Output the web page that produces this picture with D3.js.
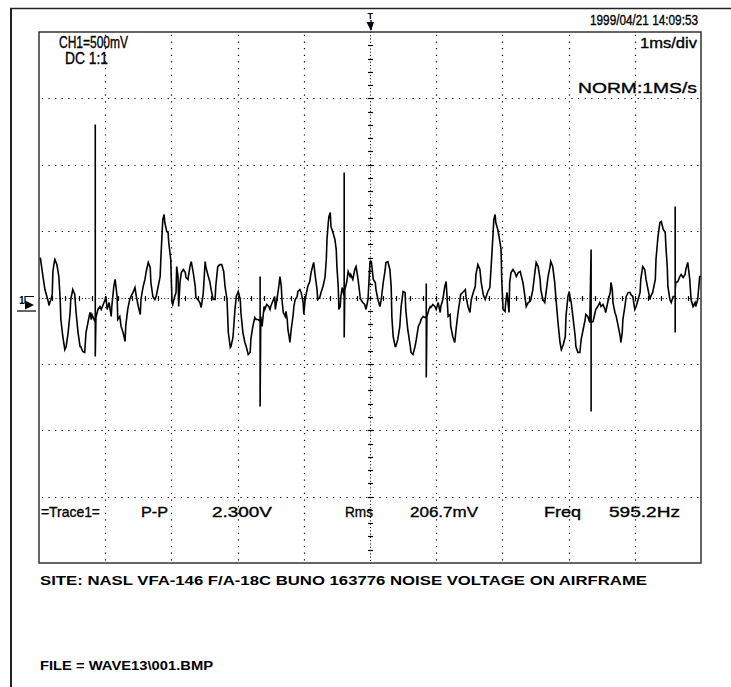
<!DOCTYPE html>
<html><head><meta charset="utf-8">
<script src="https://cdn.jsdelivr.net/npm/d3@7"></script>
<style>
html,body{margin:0;padding:0;background:#fff;}
svg{display:block;}
text{font-family:"Liberation Sans Narrow","Liberation Sans","DejaVu Sans Condensed",sans-serif;fill:#000;}
.scope{stroke:#000;stroke-width:0.35px;}
.bold{font-family:"Liberation Sans","Arial",sans-serif;font-weight:bold;}
</style></head>
<body>
<svg id="c" width="731" height="687"></svg>
<script>
// ---- data (time in ms, voltage in V) ----
const timeMs = [0.02,0.06,0.09,0.14,0.15,0.18,0.20,0.21,0.23,0.24,0.27,0.30,0.32,0.33,0.36,0.39,0.41,0.44,0.47,0.48,0.51,0.54,0.56,0.59,0.62,0.63,0.66,0.69,0.71,0.74,0.77,0.79,0.80,0.85,0.85,0.85,0.86,0.89,0.92,0.94,0.97,1.00,1.01,1.03,1.06,1.09,1.10,1.13,1.15,1.18,1.19,1.22,1.24,1.27,1.30,1.31,1.34,1.37,1.39,1.42,1.45,1.47,1.50,1.53,1.54,1.57,1.60,1.62,1.65,1.68,1.69,1.72,
1.75,1.77,1.80,1.83,1.84,1.86,1.87,1.89,1.90,1.93,1.95,1.96,1.99,2.00,2.01,2.02,2.05,2.07,2.08,2.10,2.11,2.13,2.15,2.18,2.21,2.22,2.25,2.28,2.30,2.33,2.36,2.37,2.40,2.43,2.45,2.48,2.51,2.52,2.55,2.58,2.60,2.63,2.66,2.67,2.70,2.73,2.76,2.79,2.81,2.84,2.86,2.89,2.90,2.93,2.96,2.98,3.01,3.04,3.05,3.08,3.11,3.13,3.16,3.19,3.20,3.23,3.26,3.28,3.31,3.34,3.34,3.34,3.35,3.37,
3.40,3.41,3.44,3.47,3.49,3.50,3.53,3.56,3.57,3.60,3.61,3.63,3.64,3.66,3.67,3.69,3.72,3.73,3.75,3.76,3.78,3.79,3.81,3.84,3.85,3.87,3.90,3.91,3.94,3.96,3.99,4.00,4.02,4.05,4.06,4.09,4.11,4.14,4.15,4.17,4.20,4.21,4.24,4.26,4.29,4.32,4.34,4.35,4.37,4.38,4.40,4.41,4.44,4.47,4.49,4.50,4.52,4.53,4.55,4.56,4.58,4.61,4.61,4.61,4.62,4.65,4.67,4.70,4.71,4.74,4.77,4.79,4.82,4.85,4.86,4.89,4.92,4.94,4.97,
5.00,5.02,5.05,5.08,5.09,5.12,5.15,5.17,5.20,5.23,5.24,5.27,5.30,5.32,5.33,5.35,5.38,5.39,5.42,5.45,5.47,5.50,5.53,5.54,5.57,5.60,5.62,5.65,5.68,5.70,5.73,5.76,5.77,5.80,5.83,5.85,5.85,5.85,5.86,5.89,5.91,5.92,5.95,5.98,6.00,6.03,6.06,6.07,6.10,6.13,6.15,6.16,6.18,6.21,6.22,6.25,6.28,6.30,6.33,6.36,6.37,6.40,6.44,6.45,6.48,6.51,6.53,6.56,6.59,6.60,6.63,6.66,6.68,
6.71,6.74,6.75,6.78,6.81,6.83,6.86,6.87,6.89,6.90,6.93,6.95,6.98,6.99,7.01,7.04,7.05,7.07,7.10,7.11,7.13,7.16,7.19,7.21,7.24,7.27,7.28,7.31,7.34,7.36,7.39,7.42,7.43,7.46,7.49,7.51,7.54,7.57,7.58,7.61,7.64,7.66,7.69,7.72,7.73,7.76,7.79,7.81,7.84,7.87,7.89,7.92,7.95,7.96,7.99,8.01,8.02,8.04,8.07,8.10,8.11,8.14,8.17,8.19,8.22,8.25,8.26,8.29,8.32,8.34,8.34,8.34,
8.37,8.40,8.41,8.44,8.47,8.49,8.52,8.55,8.56,8.60,8.63,8.64,8.66,8.67,8.70,8.72,8.75,8.78,8.79,8.81,8.82,8.85,8.87,8.90,8.93,8.94,8.97,9.00,9.02,9.05,9.08,9.09,9.12,9.15,9.17,9.20,9.23,9.24,9.27,9.31,9.32,9.35,9.38,9.40,9.43,9.46,9.47,9.49,9.50,9.53,9.55,9.58,9.61,9.61,9.61,9.61,9.62,9.65,9.68,9.70,9.73,9.76,9.77,9.80,9.83,9.85,9.88,9.91,9.92,9.95,9.98,10.00];
const voltV = [0.301,0.158,0.060,-0.030,-0.060,-0.015,0.023,0.196,0.264,0.286,0.248,0.158,-0.015,-0.166,-0.294,-0.392,-0.369,-0.264,-0.113,-0.015,0.060,0.023,-0.113,-0.264,-0.369,-0.369,-0.407,-0.414,-0.264,-0.188,-0.113,-0.166,-0.128,-0.188,1.303,-0.444,-0.151,-0.090,-0.068,-0.090,-0.053,-0.015,0.008,-0.090,-0.038,-0.143,-0.068,0.083,0.136,0.008,-0.166,-0.143,-0.218,-0.264,-0.331,-0.218,-0.090,-0.015,0.008,0.038,0.075,0.008,-0.068,-0.128,-0.015,0.075,0.136,0.196,0.264,0.226,0.113,0.008,
-0.015,0.008,0.083,0.158,0.286,0.489,0.587,0.625,0.565,0.497,0.489,0.414,0.286,0.113,-0.038,-0.053,0.008,0.038,0.233,0.158,-0.068,0.113,0.188,0.211,0.188,0.151,0.136,0.233,0.271,0.188,0.083,0,-0.015,-0.038,-0.075,0.023,0.271,0.233,0.173,0.120,0.060,-0.015,-0.015,0.083,0.233,0.248,0.248,0.196,0.083,-0.015,-0.264,-0.377,-0.369,-0.301,-0.090,0.008,0.045,-0.015,-0.113,-0.264,-0.339,-0.369,-0.429,-0.414,-0.316,-0.218,-0.151,-0.166,-0.166,-0.181,0.158,-0.821,-0.143,-0.218,
-0.068,-0.090,-0.053,-0.068,-0.090,-0.068,-0.030,0.008,-0.090,0.008,0.038,0.113,0.158,0.083,-0.015,-0.113,-0.143,-0.105,-0.166,-0.241,-0.301,-0.339,-0.241,-0.128,-0.068,-0.015,0.008,0.045,0.060,0.038,-0.038,-0.128,-0.015,0.060,0.083,0.120,0.188,0.248,0.264,0.173,0.060,-0.015,0,0.038,0.083,0.151,0.286,0.437,0.565,0.610,0.640,0.535,0.489,0.437,0.361,0.233,0.083,-0.090,-0.068,0.008,0.075,0.008,0.941,-0.301,0.060,0.120,0.196,0.158,0.173,0.136,0.211,0.233,0.136,0.008,-0.015,-0.038,-0.053,-0.090,-0.015,
0.271,0.271,0.136,0.113,0.060,-0.015,-0.068,-0.015,0.113,0.211,0.264,0.271,0.211,0.083,-0.143,-0.294,-0.369,-0.369,-0.316,-0.218,-0.068,0.045,0.038,-0.090,-0.241,-0.339,-0.414,-0.429,-0.369,-0.316,-0.218,-0.188,-0.166,-0.143,-0.151,-0.143,0.105,-0.602,-0.143,-0.090,-0.068,-0.075,-0.053,-0.068,-0.090,-0.038,-0.113,-0.068,-0.015,0.083,0.120,0.038,-0.143,-0.128,-0.218,-0.294,-0.339,-0.241,-0.113,-0.015,0.023,0.038,0.060,0.008,-0.068,-0.113,-0.015,0.038,0.083,0.173,0.248,0.211,0.113,
0.023,-0.015,0,0.045,0.075,0.233,0.489,0.587,0.625,0.565,0.512,0.459,0.361,0.136,-0.090,-0.105,-0.038,0.038,-0.113,0.113,0.188,0.211,0.188,0.158,0.188,0.196,0.173,0.113,0.008,-0.068,-0.038,-0.030,-0.015,0.060,0.188,0.264,0.233,0.136,0.060,-0.015,-0.038,0.038,0.158,0.233,0.271,0.233,0.113,-0.015,-0.188,-0.339,-0.392,-0.354,-0.294,-0.143,0.008,0.045,0.008,-0.038,-0.166,-0.294,-0.369,-0.414,-0.414,-0.316,-0.241,-0.166,-0.128,-0.143,-0.188,0.361,-0.858,-0.188,
-0.181,-0.113,-0.090,-0.068,-0.038,-0.068,-0.053,-0.090,-0.113,-0.015,0.038,0.113,0.060,-0.038,-0.113,-0.143,-0.218,-0.294,-0.339,-0.264,-0.166,-0.068,0.008,0.038,0.038,0.023,0.008,-0.090,-0.068,-0.015,0.038,0.136,0.233,0.211,0.136,0.060,-0.015,0.008,0.038,0.136,0.286,0.459,0.565,0.572,0.512,0.489,0.384,0.233,0.083,-0.015,-0.038,0.008,0.008,0.685,-0.264,0.060,0.113,0.120,0.158,0.173,0.151,0.173,0.211,0.264,0.136,-0.015,-0.068,-0.038,-0.068,-0.015,0.158,0.158];

const xDomain = [0, 10];          // ms, 1 ms/div
const yDomain = [-2, 2];          // V, 500 mV/div
const headerTexts = ["1999/04/21  14:09:53", "CH1=500mV", "DC  1:1", "1ms/div", "NORM:1MS/s"];
const measureTexts = ["=Trace1=", "P-P", "2.300V", "Rms", "206.7mV", "Freq", "595.2Hz"];
const footerTexts = ["SITE:  NASL VFA-146 F/A-18C BUNO 163776 NOISE VOLTAGE ON AIRFRAME", "FILE = WAVE13\\001.BMP"];

// ---- layout ----
const svg = d3.select("#c");
const L = 39, R = 701, T = 32, B = 563;
const x = d3.scaleLinear().domain(xDomain).range([L, R]);
const y = d3.scaleLinear().domain(yDomain).range([B, T]);

// outer frame
svg.append("line").attr("x1", 11).attr("x2", 11).attr("y1", 8).attr("y2", 687).attr("stroke", "#222").attr("stroke-width", 2);
svg.append("line").attr("x1", 10).attr("x2", 731).attr("y1", 8.5).attr("y2", 8.5).attr("stroke", "#222").attr("stroke-width", 1.5);

// grid (dotted)
const g = svg.append("g");
const xMajor = x.ticks(10), yMajor = y.ticks(8);
const divW = x(1) - x(0), divH = y(0) - y(0.5);
g.selectAll("line.gv").data(xMajor.filter(d => d > 0 && d < 10 && d !== 5)).enter().append("line")
  .attr("x1", d => Math.round(x(d)) + 0.5).attr("x2", d => Math.round(x(d)) + 0.5)
  .attr("y1", T).attr("y2", B).attr("stroke", "#000").attr("stroke-width", 1.2)
  .attr("stroke-dasharray", `1.2 ${divH / 10 - 1.2}`).attr("stroke-dashoffset", -(divH / 10) / 2 + 0.5);
g.selectAll("line.gh").data(yMajor.filter(d => d > -2 && d < 2 && d !== 0)).enter().append("line")
  .attr("y1", d => Math.round(y(d)) + 0.5).attr("y2", d => Math.round(y(d)) + 0.5)
  .attr("x1", L).attr("x2", R).attr("stroke", "#000").attr("stroke-width", 1.2)
  .attr("stroke-dasharray", `1.2 ${divW / 10 - 1.2}`).attr("stroke-dashoffset", -(divW / 10) / 2 + 0.5);

// centre axes: dense dots + minor ticks
const cx = Math.round(x(5)) + 0.5, cy = Math.round(y(0)) + 0.5;
g.append("line").attr("x1", cx).attr("x2", cx).attr("y1", T).attr("y2", B).attr("stroke", "#000").attr("stroke-dasharray", "1 2.3");
g.append("line").attr("y1", cy).attr("y2", cy).attr("x1", L).attr("x2", R).attr("stroke", "#000").attr("stroke-dasharray", "1 2.3");
g.selectAll("line.ty").data(y.ticks(40).filter(d => d > -2 && d < 2)).enter().append("line")
  .attr("x1", cx - 2.5).attr("x2", cx + 2.5).attr("y1", d => Math.round(y(d)) + 0.5).attr("y2", d => Math.round(y(d)) + 0.5)
  .attr("stroke", "#000").attr("stroke-width", 1.2);
g.selectAll("line.tx").data(x.ticks(50).filter(d => d > 0 && d < 10)).enter().append("line")
  .attr("y1", cy - 2.5).attr("y2", cy + 2.5).attr("x1", d => Math.round(x(d)) + 0.5).attr("x2", d => Math.round(x(d)) + 0.5)
  .attr("stroke", "#000").attr("stroke-width", 1.2);

// inner frame
svg.append("rect").attr("x", L).attr("y", T).attr("width", R - L).attr("height", B - T)
  .attr("fill", "none").attr("stroke", "#333").attr("stroke-width", 1.5);

// trace
const pts = timeMs.map((t, i) => [t, voltV[i]]);
const line = d3.line().x(d => x(d[0])).y(d => y(d[1]));
svg.append("path").attr("d", line(pts)).attr("fill", "none").attr("stroke", "#000")
  .attr("stroke-width", 1.6).attr("stroke-linejoin", "miter");

// trigger marker (top, at centre time)
const tx = x(5);
svg.append("line").attr("x1", tx + 1).attr("x2", tx + 1).attr("y1", 20).attr("y2", 30).attr("stroke", "#000").attr("stroke-width", 1.3);
svg.append("path").attr("d", `M${tx - 3.5},${22} L${tx + 4},${22} L${tx + 1},${31} Z`).attr("fill", "#000");
svg.append("text").attr("x", tx - 2.5).attr("y", 19).attr("font-size", 9).attr("font-weight", "bold").text("T");

// ground marker (left, at 0 V)
const gy = y(0);
svg.append("text").attr("x", 19).attr("y", gy + 6).attr("font-size", 10).attr("font-weight", "bold").text("1");
svg.append("path").attr("d", `M25,${gy + 6} L25,${gy - 1} L34,${gy - 1}`).attr("fill", "none").attr("stroke", "#000").attr("stroke-width", 1.2);
svg.append("path").attr("d", `M25,${gy + 3} L34,${gy + 7.5} L25,${gy + 12} Z`).attr("fill", "#000");
svg.append("line").attr("x1", 17).attr("x2", 36).attr("y1", gy + 13.5).attr("y2", gy + 13.5).attr("stroke", "#000").attr("stroke-width", 1.2);

// header texts
const hdr = [
  {s: headerTexts[0], x0: 590, x1: 698, yb: 24.5, fs: 15},
  {s: headerTexts[1], x0: 59, x1: 128, yb: 48, fs: 16},
  {s: headerTexts[2], x0: 65, x1: 108, yb: 64, fs: 16},
  {s: headerTexts[3], x0: 640, x1: 697, yb: 48, fs: 15},
  {s: headerTexts[4], x0: 578, x1: 697, yb: 93, fs: 15}
];
svg.selectAll("text.h").data(hdr).enter().append("text").attr("class", "scope")
  .attr("x", d => d.x0).attr("y", d => d.yb).attr("font-size", d => d.fs)
  .attr("textLength", d => d.x1 - d.x0).attr("lengthAdjust", "spacingAndGlyphs").text(d => d.s);

// measurement row
const mx = [[41, 100], [141, 168], [212, 272], [345, 373], [410, 478], [544, 581], [609, 680]];
svg.selectAll("text.m").data(measureTexts).enter().append("text").attr("class", "scope")
  .attr("x", (d, i) => mx[i][0]).attr("y", 517).attr("font-size", 15)
  .attr("textLength", (d, i) => mx[i][1] - mx[i][0]).attr("lengthAdjust", "spacingAndGlyphs").text(d => d);

// footer
const fx = [[40, 647, 585], [40, 213, 670]];
svg.selectAll("text.f").data(footerTexts).enter().append("text").attr("class", "bold")
  .attr("x", (d, i) => fx[i][0]).attr("y", (d, i) => fx[i][2]).attr("font-size", 12)
  .attr("textLength", (d, i) => fx[i][1] - fx[i][0]).attr("lengthAdjust", "spacingAndGlyphs").text(d => d);
</script>
</body></html>
